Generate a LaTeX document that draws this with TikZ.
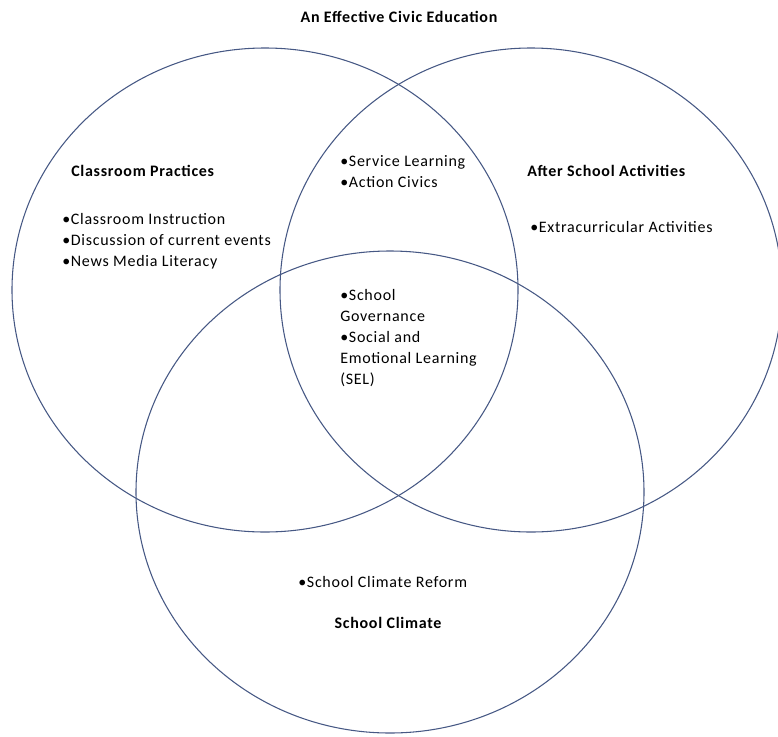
\documentclass[tikz,border=0pt]{standalone}
\usepackage{fontspec}
\setmainfont{Carlito}[LetterSpace=4.5]
\usepackage{tikz}
\definecolor{vennline}{RGB}{70,88,132}
\tikzset{
  venn/.style={draw=vennline, line width=0.8pt},
  heading/.style={font=\fontsize{12}{14}\selectfont\bfseries, inner sep=0pt},
  bullets/.style={font=\fontsize{12}{15.75}\selectfont, align=left, inner sep=0pt, anchor=north west}
}

\begin{document}
\begin{tikzpicture}[x=0.75pt,y=-0.75pt]
\useasboundingbox (0,0) rectangle (778,736);
% the three circles
\draw[venn] (265,290) ellipse [x radius=253, y radius=242];
\draw[venn] (531,290) ellipse [x radius=251, y radius=242];
\draw[venn] (390,492) ellipse [x radius=254, y radius=241];
% title and headings
\node (title) at (399,17)[heading] {An Effective Civic Education};
\node (practices) at (71,171)[heading, anchor=west] {Classroom Practices};
\node (afterschool) at (527,171)[heading, anchor=west] {After School Activities};
\node (climate) at (388,623)[heading] {School Climate};
% bullet lists
\node (practicelist) at (62,213)[bullets] {•Classroom Instruction\\•Discussion of current events\\•News Media Literacy};
\node (servicelist) at (340,155)[bullets] {•Service Learning\\•Action Civics};
\node (afterlist) at (530,221)[bullets] {•Extracurricular Activities};
\node (centerlist) at (340,289)[bullets] {•School\\Governance\\•Social and\\Emotional Learning\\(SEL)};
\node (climatelist) at (298,576)[bullets] {•School Climate Reform};
\end{tikzpicture}
\end{document}
